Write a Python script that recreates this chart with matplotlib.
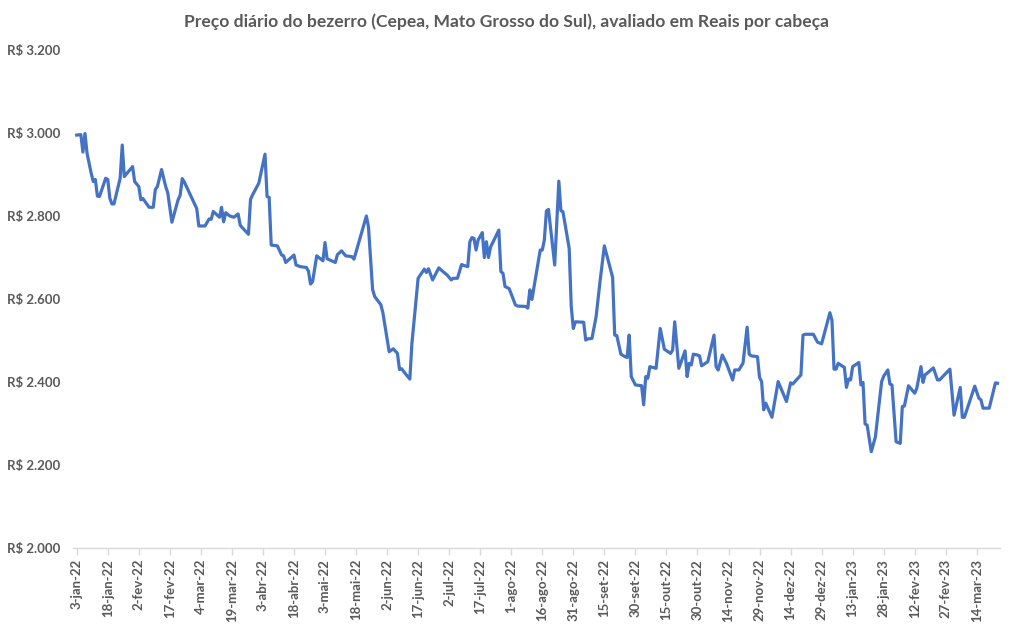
import matplotlib
matplotlib.use("Agg")
import matplotlib.pyplot as plt
import matplotlib.dates as mdates
import pandas as pd
import numpy as np

plt.rcParams['font.family'] = ['Lato', 'DejaVu Sans']

datas = [
    "2022-01-03", "2022-01-05", "2022-01-06", "2022-01-07", "2022-01-08", "2022-01-10", "2022-01-11",
    "2022-01-12", "2022-01-13", "2022-01-14", "2022-01-17", "2022-01-18", "2022-01-19", "2022-01-20",
    "2022-01-21", "2022-01-24", "2022-01-25", "2022-01-26", "2022-01-30", "2022-01-31", "2022-02-02",
    "2022-02-03", "2022-02-04", "2022-02-07", "2022-02-09", "2022-02-10", "2022-02-11", "2022-02-13",
    "2022-02-15", "2022-02-16", "2022-02-18", "2022-02-21", "2022-02-22", "2022-02-23", "2022-02-24",
    "2022-03-02", "2022-03-03", "2022-03-06", "2022-03-08", "2022-03-09", "2022-03-10", "2022-03-13",
    "2022-03-14", "2022-03-15", "2022-03-16", "2022-03-18", "2022-03-20", "2022-03-22", "2022-03-23",
    "2022-03-24", "2022-03-27", "2022-03-28", "2022-03-29", "2022-04-01", "2022-04-04", "2022-04-05",
    "2022-04-06", "2022-04-07", "2022-04-10", "2022-04-12", "2022-04-13", "2022-04-14", "2022-04-18",
    "2022-04-19", "2022-04-21", "2022-04-24", "2022-04-25", "2022-04-26", "2022-04-27", "2022-04-29",
    "2022-05-02", "2022-05-03", "2022-05-04", "2022-05-08", "2022-05-09", "2022-05-11", "2022-05-13",
    "2022-05-16", "2022-05-17", "2022-05-23", "2022-05-24", "2022-05-26", "2022-05-27", "2022-05-30",
    "2022-05-31", "2022-06-03", "2022-06-05", "2022-06-07", "2022-06-08", "2022-06-09", "2022-06-11",
    "2022-06-13", "2022-06-14", "2022-06-17", "2022-06-20", "2022-06-21", "2022-06-22", "2022-06-24",
    "2022-06-27", "2022-06-29", "2022-07-01", "2022-07-03", "2022-07-04", "2022-07-06", "2022-07-08",
    "2022-07-09", "2022-07-11", "2022-07-12", "2022-07-13", "2022-07-14", "2022-07-15", "2022-07-16",
    "2022-07-18", "2022-07-19", "2022-07-20", "2022-07-21", "2022-07-22", "2022-07-26", "2022-07-27",
    "2022-07-28", "2022-07-29", "2022-07-31", "2022-08-03", "2022-08-04", "2022-08-08", "2022-08-09",
    "2022-08-10", "2022-08-11", "2022-08-15", "2022-08-16", "2022-08-17", "2022-08-18", "2022-08-19",
    "2022-08-22", "2022-08-24", "2022-08-25", "2022-08-26", "2022-08-29", "2022-08-30", "2022-08-31",
    "2022-09-01", "2022-09-05", "2022-09-06", "2022-09-07", "2022-09-09", "2022-09-11", "2022-09-13",
    "2022-09-15", "2022-09-19", "2022-09-20", "2022-09-21", "2022-09-23", "2022-09-25", "2022-09-26",
    "2022-09-27", "2022-09-28", "2022-09-30", "2022-10-03", "2022-10-04", "2022-10-05", "2022-10-06",
    "2022-10-07", "2022-10-10", "2022-10-12", "2022-10-14", "2022-10-17", "2022-10-18", "2022-10-19",
    "2022-10-21", "2022-10-24", "2022-10-25", "2022-10-26", "2022-10-27", "2022-10-28", "2022-10-30",
    "2022-10-31", "2022-11-01", "2022-11-04", "2022-11-07", "2022-11-08", "2022-11-09", "2022-11-11",
    "2022-11-13", "2022-11-16", "2022-11-17", "2022-11-19", "2022-11-21", "2022-11-23", "2022-11-24",
    "2022-11-25", "2022-11-28", "2022-11-29", "2022-11-30", "2022-12-01", "2022-12-02", "2022-12-05",
    "2022-12-08", "2022-12-12", "2022-12-14", "2022-12-15", "2022-12-19", "2022-12-20", "2022-12-21",
    "2022-12-25", "2022-12-27", "2022-12-29", "2023-01-02", "2023-01-03", "2023-01-04", "2023-01-05",
    "2023-01-06", "2023-01-09", "2023-01-10", "2023-01-11", "2023-01-12", "2023-01-13", "2023-01-16",
    "2023-01-17", "2023-01-18", "2023-01-19", "2023-01-20", "2023-01-22", "2023-01-24", "2023-01-27",
    "2023-01-28", "2023-01-30", "2023-01-31", "2023-02-01", "2023-02-03", "2023-02-05", "2023-02-06",
    "2023-02-07", "2023-02-09", "2023-02-12", "2023-02-13", "2023-02-15", "2023-02-16", "2023-02-17",
    "2023-02-21", "2023-02-23", "2023-02-24", "2023-03-01", "2023-03-03", "2023-03-06", "2023-03-07",
    "2023-03-08", "2023-03-13", "2023-03-15", "2023-03-16", "2023-03-17", "2023-03-20", "2023-03-21",
    "2023-03-23", "2023-03-24",
]

precos = [
    2995, 2996, 2954, 2999, 2951, 2903, 2883,
    2888, 2848, 2847, 2891, 2888, 2843, 2829,
    2829, 2891, 2971, 2895, 2919, 2883, 2871,
    2839, 2842, 2821, 2821, 2864, 2871, 2912,
    2871, 2856, 2785, 2839, 2850, 2890, 2882,
    2818, 2776, 2776, 2793, 2792, 2811, 2797,
    2821, 2786, 2808, 2800, 2797, 2805, 2778,
    2772, 2756, 2840, 2851, 2879, 2949, 2847,
    2845, 2730, 2728, 2706, 2704, 2688, 2706,
    2682, 2678, 2676, 2667, 2636, 2642, 2704,
    2692, 2736, 2697, 2688, 2707, 2716, 2704,
    2702, 2696, 2800, 2774, 2623, 2606, 2586,
    2566, 2473, 2480, 2469, 2430, 2432, 2419,
    2407, 2493, 2650, 2672, 2664, 2673, 2646,
    2675, 2666, 2658, 2646, 2650, 2650, 2683,
    2681, 2678, 2738, 2748, 2746, 2718, 2742,
    2760, 2700, 2738, 2700, 2725, 2766, 2666,
    2662, 2630, 2625, 2586, 2583, 2582, 2578,
    2622, 2599, 2718, 2718, 2742, 2812, 2816,
    2682, 2884, 2813, 2810, 2722, 2582, 2529,
    2545, 2544, 2501, 2504, 2505, 2557, 2646,
    2728, 2652, 2513, 2512, 2467, 2461, 2459,
    2513, 2413, 2393, 2391, 2345, 2413, 2409,
    2437, 2433, 2529, 2479, 2469, 2477, 2545,
    2433, 2475, 2413, 2445, 2441, 2467, 2465,
    2463, 2439, 2449, 2513, 2437, 2429, 2465,
    2445, 2405, 2429, 2429, 2445, 2532, 2467,
    2463, 2461, 2411, 2401, 2333, 2349, 2315,
    2401, 2353, 2398, 2395, 2417, 2513, 2515,
    2515, 2496, 2492, 2567, 2549, 2431, 2431,
    2445, 2435, 2387, 2407, 2405, 2437, 2447,
    2393, 2399, 2299, 2296, 2232, 2268, 2401,
    2414, 2429, 2395, 2393, 2256, 2252, 2341,
    2342, 2391, 2373, 2385, 2437, 2399, 2417,
    2434, 2405, 2405, 2431, 2320, 2387, 2315,
    2315, 2390, 2361, 2357, 2337, 2337, 2357,
    2398, 2397,
]

tick_datas = [
    "2022-01-03", "2022-01-18", "2022-02-02", "2022-02-17", "2022-03-04", "2022-03-19",
    "2022-04-03", "2022-04-18", "2022-05-03", "2022-05-18", "2022-06-02", "2022-06-17",
    "2022-07-02", "2022-07-17", "2022-08-01", "2022-08-16", "2022-08-31", "2022-09-15",
    "2022-09-30", "2022-10-15", "2022-10-30", "2022-11-14", "2022-11-29", "2022-12-14",
    "2022-12-29", "2023-01-13", "2023-01-28", "2023-02-12", "2023-02-27", "2023-03-14",
]
tick_rotulos = [
    "3-jan-22", "18-jan-22", "2-fev-22", "17-fev-22", "4-mar-22", "19-mar-22",
    "3-abr-22", "18-abr-22", "3-mai-22", "18-mai-22", "2-jun-22", "17-jun-22",
    "2-jul-22", "17-jul-22", "1-ago-22", "16-ago-22", "31-ago-22", "15-set-22",
    "30-set-22", "15-out-22", "30-out-22", "14-nov-22", "29-nov-22", "14-dez-22",
    "29-dez-22", "13-jan-23", "28-jan-23", "12-fev-23", "27-fev-23", "14-mar-23",
]
y_ticks = [2000, 2200, 2400, 2600, 2800, 3000, 3200]
y_rotulos = ["R$ 2.000", "R$ 2.200", "R$ 2.400", "R$ 2.600", "R$ 2.800", "R$ 3.000", "R$ 3.200"]
titulo = "Preço diário do bezerro (Cepea, Mato Grosso do Sul), avaliado em Reais por cabeça"

cinza = "#595959"
fig = plt.figure(figsize=(10.13, 6.30), dpi=100)
ax = fig.add_axes([73/1013, 1-548/630, (1000-73)/1013, (548-50)/630])

x = pd.to_datetime(datas)
ax.plot(x, precos, color="#4472C4", lw=2.3, solid_joinstyle="round")

ax.set_ylim(2000, 3200)
ax.set_yticks(y_ticks)
ax.set_yticklabels(y_rotulos)
xt = pd.to_datetime(tick_datas)
ax.set_xticks(xt)
ax.set_xticklabels(tick_rotulos, rotation=90)
ax.set_xlim(pd.Timestamp("2022-01-01 05:00"), pd.Timestamp("2023-03-25 05:00"))

for s in ["top", "right", "left"]:
    ax.spines[s].set_visible(False)
ax.spines["bottom"].set_color("#D9D9D9")
ax.spines["bottom"].set_linewidth(1.0)
ax.tick_params(axis="y", length=0, pad=9, labelsize=9.5, labelcolor=cinza)
ax.tick_params(axis="x", length=5, width=1.0, color="#D9D9D9", pad=3, labelsize=9.5, labelcolor=cinza)
for lab in ax.get_yticklabels() + ax.get_xticklabels():
    lab.set_fontweight("bold")

fig.text(506/1013, 1-22/630, titulo, ha="center", va="center", fontsize=12.6, color=cinza, fontweight="bold")

fig.savefig("out.png", dpi=100)
